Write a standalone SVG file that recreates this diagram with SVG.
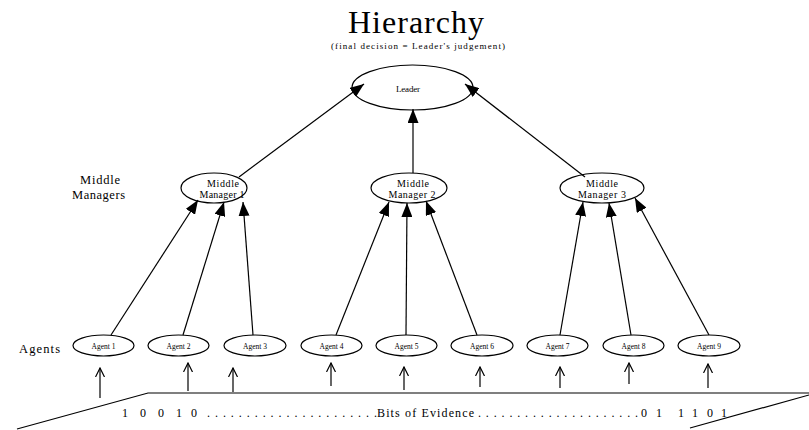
<svg xmlns="http://www.w3.org/2000/svg" width="809" height="430" viewBox="0 0 809 430">
  <style>
    text { font-family: "Liberation Serif", "Times New Roman", serif; fill: #000; }
    .node { fill: #fff; stroke: #000; stroke-width: 1.2; }
    .edge { stroke: #000; stroke-width: 1.2; fill: none; }
    .title { font-size: 32px; }
    .sub { font-size: 9px; }
    .lbl { font-size: 12.5px; }
    .mm { font-size: 10px; text-anchor: middle; }
    .ag { font-size: 7.5px; text-anchor: middle; }
    .bits { font-size: 12px; }
  </style>
  <defs>
    <marker id="solid" markerUnits="userSpaceOnUse" markerWidth="16" markerHeight="11" refX="14" refY="5.5" orient="auto">
      <path d="M0,0 L14,5.5 L0,11 Z" fill="#000"/>
    </marker>
    <marker id="open" markerUnits="userSpaceOnUse" markerWidth="10" markerHeight="12" refX="9" refY="5" orient="auto">
      <path d="M0,0.5 L9,5 L0,9.5" fill="none" stroke="#000" stroke-width="1.2"/>
    </marker>
  </defs>

  <!-- heading -->
  <text class="title" x="348" y="33" textLength="136" lengthAdjust="spacing">Hierarchy</text>
  <text class="sub" x="331" y="49" textLength="174" lengthAdjust="spacing">(final decision = Leader's judgement)</text>

  <!-- level labels -->
  <text class="lbl" x="80" y="184" textLength="40" lengthAdjust="spacing">Middle</text>
  <text class="lbl" x="72" y="199" textLength="53" lengthAdjust="spacing">Managers</text>
  <text class="lbl" x="19" y="353" textLength="41" lengthAdjust="spacing">Agents</text>

  <!-- leader -->
  <g id="leader">
    <ellipse class="node" cx="412.5" cy="87.5" rx="60.5" ry="22.5"/>
    <text x="396" y="92" font-size="9" textLength="24" lengthAdjust="spacing">Leader</text>
  </g>

  <!-- middle managers -->
  <g id="mm1">
    <ellipse class="node" cx="214" cy="188" rx="33" ry="15"/>
    <text class="mm" x="223" y="187" textLength="32" lengthAdjust="spacing">Middle</text>
    <text class="mm" x="222" y="198" textLength="45" lengthAdjust="spacing">Manager 1</text>
  </g>
  <g id="mm2">
    <ellipse class="node" cx="409" cy="188" rx="38" ry="15"/>
    <text class="mm" x="413" y="187" textLength="32" lengthAdjust="spacing">Middle</text>
    <text class="mm" x="412" y="198" textLength="47" lengthAdjust="spacing">Manager 2</text>
  </g>
  <g id="mm3">
    <ellipse class="node" cx="602" cy="188" rx="42" ry="15"/>
    <text class="mm" x="602" y="187" textLength="32" lengthAdjust="spacing">Middle</text>
    <text class="mm" x="602" y="198" textLength="48" lengthAdjust="spacing">Manager 3</text>
  </g>

  <!-- agents -->
  <g id="agent1"><ellipse class="node" cx="103.5" cy="345.5" rx="30.5" ry="10.5"/><text class="ag" x="103.5" y="349">Agent 1</text></g>
  <g id="agent2"><ellipse class="node" cx="178.5" cy="345.5" rx="30.5" ry="10.5"/><text class="ag" x="178.5" y="349">Agent 2</text></g>
  <g id="agent3"><ellipse class="node" cx="255" cy="345.5" rx="31" ry="10.5"/><text class="ag" x="255" y="349">Agent 3</text></g>
  <g id="agent4"><ellipse class="node" cx="331.5" cy="345.5" rx="30.5" ry="10.5"/><text class="ag" x="331.5" y="349">Agent 4</text></g>
  <g id="agent5"><ellipse class="node" cx="406.5" cy="345.5" rx="30.5" ry="10.5"/><text class="ag" x="406.5" y="349">Agent 5</text></g>
  <g id="agent6"><ellipse class="node" cx="482" cy="345.5" rx="31" ry="10.5"/><text class="ag" x="482" y="349">Agent 6</text></g>
  <g id="agent7"><ellipse class="node" cx="557.5" cy="345.5" rx="30.5" ry="10.5"/><text class="ag" x="557.5" y="349">Agent 7</text></g>
  <g id="agent8"><ellipse class="node" cx="633.5" cy="345.5" rx="30.5" ry="10.5"/><text class="ag" x="633.5" y="349">Agent 8</text></g>
  <g id="agent9"><ellipse class="node" cx="709" cy="345.5" rx="31" ry="10.5"/><text class="ag" x="709" y="349">Agent 9</text></g>

  <!-- connectors, drawn over the node outlines so the heads stay visible -->
  <g id="connectors" class="edge">
    <!-- middle managers to leader -->
    <line x1="239" y1="177" x2="364" y2="84" marker-end="url(#solid)"/>
    <line x1="413" y1="173" x2="413" y2="109" marker-end="url(#solid)"/>
    <line x1="585" y1="177" x2="465" y2="84" marker-end="url(#solid)"/>
    <!-- agents to middle managers -->
    <line x1="111" y1="335" x2="198" y2="200" marker-end="url(#solid)"/>
    <line x1="183" y1="335" x2="224" y2="202" marker-end="url(#solid)"/>
    <line x1="253" y1="335" x2="243" y2="202" marker-end="url(#solid)"/>
    <line x1="336" y1="335" x2="389" y2="202" marker-end="url(#solid)"/>
    <line x1="406" y1="335" x2="407" y2="203" marker-end="url(#solid)"/>
    <line x1="477" y1="335" x2="426" y2="201" marker-end="url(#solid)"/>
    <line x1="560" y1="335" x2="583" y2="202" marker-end="url(#solid)"/>
    <line x1="631" y1="335" x2="609" y2="203" marker-end="url(#solid)"/>
    <line x1="709" y1="335" x2="635" y2="198" marker-end="url(#solid)"/>
    <!-- evidence bits to agents -->
    <line x1="100" y1="398" x2="100" y2="368" marker-end="url(#open)"/>
    <line x1="188" y1="391" x2="188" y2="363" marker-end="url(#open)"/>
    <line x1="233" y1="392" x2="233" y2="368" marker-end="url(#open)"/>
    <line x1="331" y1="386" x2="331" y2="363" marker-end="url(#open)"/>
    <line x1="404" y1="390" x2="404" y2="367" marker-end="url(#open)"/>
    <line x1="480" y1="387" x2="480" y2="367" marker-end="url(#open)"/>
    <line x1="560" y1="388" x2="560" y2="367" marker-end="url(#open)"/>
    <line x1="629" y1="384" x2="629" y2="363" marker-end="url(#open)"/>
    <line x1="708" y1="388" x2="708" y2="364" marker-end="url(#open)"/>
  </g>

  <!-- evidence strip -->
  <g id="evidence">
    <path class="edge" d="M17,429 L148,393 L809,393"/>
    <path class="edge" d="M809,395 L690,428"/>
    <text class="bits" x="122" y="417">1</text>
    <text class="bits" x="140" y="417">0</text>
    <text class="bits" x="158" y="417">0</text>
    <text class="bits" x="176" y="417">1</text>
    <text class="bits" x="191" y="417">0</text>
    <text class="bits" x="207" y="417" textLength="170" lengthAdjust="spacing">......................</text>
    <text class="bits" x="377" y="417" textLength="97" lengthAdjust="spacing">Bits of Evidence</text>
    <text class="bits" x="478" y="417" textLength="160" lengthAdjust="spacing">.....................</text>
    <text class="bits" x="641" y="417">0</text>
    <text class="bits" x="656" y="417">1</text>
    <text class="bits" x="678" y="417">1</text>
    <text class="bits" x="692" y="417">1</text>
    <text class="bits" x="707" y="417">0</text>
    <text class="bits" x="721" y="417">1</text>
  </g>
</svg>
